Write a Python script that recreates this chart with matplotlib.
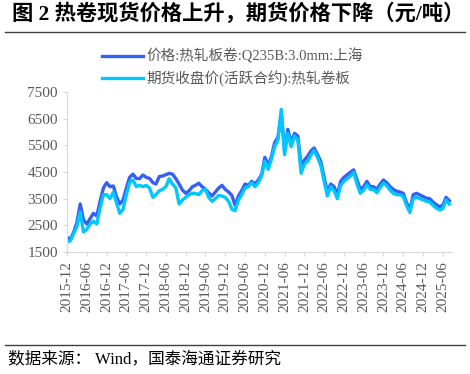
import matplotlib
matplotlib.use("Agg")
import matplotlib.pyplot as plt
import pandas as pd

plt.rcParams['font.family'] = ['Liberation Serif', 'Noto Sans CJK SC']

months = pd.date_range("2015-12-01", periods=117, freq="MS")

# 价格:热轧板卷:Q235B:3.0mm:上海 (monthly)
spot = [2050, 1980, 2250, 2600, 3300, 2700, 2550, 2750, 2950, 2850,
        3400, 3900, 4100, 3950, 3975, 3575, 3300, 3450, 3900, 4300,
        4420, 4260, 4250, 4390, 4300, 4260, 4100, 4050, 4330, 4350,
        4400, 4450, 4420, 4250, 4050, 3820, 3700, 3800, 3950, 4000,
        4080, 3950, 3850, 3720, 3600, 3750, 3900, 4000, 3850, 3750,
        3620, 3250, 3600, 3800, 4050, 4000, 4150, 4050, 4200, 4400,
        5050, 4750, 5100, 5600, 5800, 6700, 5300, 6100, 5600, 5950,
        5850, 4700, 4950, 5100, 5300, 5400, 5150, 4900, 4300, 3750,
        4050, 3950, 3650, 4150, 4300, 4400, 4500, 4580, 4200, 3850,
        3950, 4150, 3950, 3950, 3850, 4050, 4200, 4100, 3950, 3850,
        3780, 3750, 3700, 3350, 3080, 3650, 3700, 3640, 3580, 3520,
        3500, 3380, 3280, 3200, 3250, 3550, 3420]

# 期货收盘价(活跃合约):热轧卷板
futures = [1880, 1920, 2200, 2450, 3000, 2250, 2350, 2550, 2650, 2550,
           3150, 3650, 3650, 3500, 3750, 3350, 2950, 3100, 3650, 4100,
           4200, 3950, 4000, 3950, 4000, 3900, 3550, 3650, 3800, 3850,
           3950, 4250, 4050, 3900, 3300, 3450, 3550, 3650, 3700, 3700,
           3650, 3800, 3850, 3550, 3400, 3500, 3620, 3600, 3550, 3400,
           3100, 3050, 3450, 3650, 3900, 3950, 4100, 3950, 4100, 4350,
           4900, 4600, 5000, 5450, 5700, 6850, 5150, 5950, 5450, 5850,
           5700, 4450, 4800, 4900, 5150, 5300, 5050, 4750, 4150, 3600,
           3950, 3800, 3500, 4000, 4150, 4250, 4350, 4480, 4050, 3700,
           3820, 4020, 3850, 3850, 3720, 3920, 4080, 3980, 3820, 3700,
           3650, 3650, 3580, 3250, 2980, 3500, 3550, 3500, 3450, 3400,
           3370, 3260, 3150, 3080, 3120, 3450, 3300]

tick_dates = pd.date_range("2015-12-01", "2025-06-01", freq="6MS")
tick_labels = [d.strftime("%Y-%m") for d in tick_dates]
yticks = [1500, 2500, 3500, 4500, 5500, 6500, 7500]

fig = plt.figure(figsize=(4.7, 3.74), dpi=100)
ax = fig.add_axes([0.1426, 0.3262, 0.8191, 0.4278])

l1, = ax.plot(months, spot, color="#3560F5", lw=2.4, label="价格:热轧板卷:Q235B:3.0mm:上海")
l2, = ax.plot(months, futures, color="#00C8FF", lw=2.4, label="期货收盘价(活跃合约):热轧卷板")

ax.set_ylim(1500, 7500)
ax.set_yticks(yticks)
ax.set_xlim(pd.Timestamp("2015-12-01"), pd.Timestamp("2025-08-25"))
ax.set_xticks(tick_dates)
ax.set_xticklabels(tick_labels, rotation=90)

for s in ["top", "right"]:
    ax.spines[s].set_visible(False)
for s in ["left", "bottom"]:
    ax.spines[s].set_color("#D9D9D9")
ax.tick_params(colors="#D9D9D9", length=3, labelsize=11, labelcolor="#595959")

fig.legend(handles=[l1, l2], loc="upper left", bbox_to_anchor=(0.19, 0.905),
           frameon=False, fontsize=10.5, handlelength=2.8, handletextpad=0.2,
           labelspacing=0.45, labelcolor="#595959")

fig.text(0.025, 0.962, "图 2 热卷现货价格上升，期货价格下降（元/吨）", fontsize=15.3,
         fontweight="bold", family=["Liberation Serif", "Noto Sans CJK SC"], va="center")
fig.add_artist(plt.Line2D([0.01, 0.99], [0.915, 0.915], color="#404040", lw=1))
fig.add_artist(plt.Line2D([0.01, 0.99], [0.078, 0.078], color="#404040", lw=1))
fig.text(0.017, 0.040, "数据来源： Wind，国泰海通证券研究", fontsize=12, va="center")

fig.savefig("out.png", dpi=100)
